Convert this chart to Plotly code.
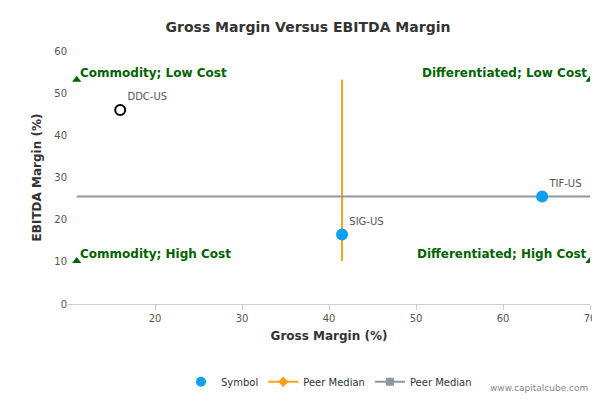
import plotly.graph_objects as go

symbols = ["DDC-US", "SIG-US", "TIF-US"]
gross = [16.0, 41.5, 64.5]
ebitda = [46.0, 16.5, 25.5]
hollow = [True, False, False]
med_x = 41.5
med_y = 25.5
x_lo, x_hi = 11.0, 70.0
y_lo, y_hi = 10.2, 53.2
quad_labels = ["Commodity; Low Cost", "Differentiated; Low Cost", "Commodity; High Cost", "Differentiated; High Cost"]

fig = go.Figure()
fig.add_trace(go.Scatter(x=[med_x, med_x], y=[y_lo, y_hi], mode="lines", line=dict(color="#f7a11a", width=2),
                         name="Peer Median", showlegend=False, hoverinfo="skip"))
fig.add_trace(go.Scatter(x=[x_lo, x_hi], y=[med_y, med_y], mode="lines", line=dict(color="#8e96a3", width=2),
                         name="Peer Median", showlegend=False, hoverinfo="skip"))
fig.add_trace(go.Scatter(x=[x_lo, x_hi, x_lo, x_hi], y=[y_hi, y_hi, y_lo, y_lo], mode="markers",
                         marker=dict(symbol="triangle-up", color="#006400", size=8), showlegend=False))
fig.add_trace(go.Scatter(x=gross, y=ebitda, mode="markers+text", text=symbols, textposition="top right",
                         textfont=dict(color="#555", size=10),
                         marker=dict(size=10, color=["white" if h else "#0ea0ec" for h in hollow],
                                     line=dict(color=["black" if h else "#0ea0ec" for h in hollow], width=2)),
                         showlegend=False))
fig.add_trace(go.Scatter(x=[None], y=[None], mode="markers", marker=dict(color="#0ea0ec", size=10), name="Symbol"))
fig.add_trace(go.Scatter(x=[None], y=[None], mode="lines+markers", marker=dict(symbol="diamond", color="#f7a11a", size=8),
                         line=dict(color="#f7a11a", width=2), name="Peer Median"))
fig.add_trace(go.Scatter(x=[None], y=[None], mode="lines+markers", marker=dict(symbol="square", color="#8e96a3", size=8),
                         line=dict(color="#8e96a3", width=2), name="Peer Median"))

pos = [(x_lo, y_hi, "left"), (x_hi, y_hi, "right"), (x_lo, y_lo, "left"), (x_hi, y_lo, "right")]
for lab, (x, y, al) in zip(quad_labels, pos):
    fig.add_annotation(x=x, y=y, text="<b>" + lab + "</b>", showarrow=False, xanchor=al, yanchor="bottom",
                       xshift=1 if al == "left" else -1, yshift=-2, font=dict(color="#006400", size=12))
fig.add_annotation(x=1, y=-0.36, xref="paper", yref="paper", text="www.capitalcube.com", showarrow=False,
                   xanchor="right", font=dict(size=9, color="#888"))

fig.update_layout(
    width=600, height=400, plot_bgcolor="white", paper_bgcolor="white",
    font=dict(family="DejaVu Sans", color="#333"),
    title=dict(text="<b>Gross Margin Versus EBITDA Margin</b>", x=0.5, y=0.965, font=dict(size=14, color="#333")),
    margin=dict(l=60, r=15, t=43, b=93),
    xaxis=dict(range=[10, 70], tickvals=[20, 30, 40, 50, 60, 70], title=dict(text="<b>Gross Margin (%)</b>", font=dict(size=12), standoff=8),
               showgrid=False, zeroline=False, showline=True, linecolor="#ccc", ticks="outside", tickcolor="#ccc",
               tickfont=dict(size=10, color="#555")),
    yaxis=dict(range=[0, 60], dtick=10, title=dict(text="<b>EBITDA Margin (%)</b>", font=dict(size=12), standoff=10),
               showgrid=False, zeroline=False, tickfont=dict(size=10, color="#555")),
    legend=dict(orientation="h", x=0.5, xanchor="center", y=-0.25, font=dict(size=10)),
)
fig.write_html("out.html")
